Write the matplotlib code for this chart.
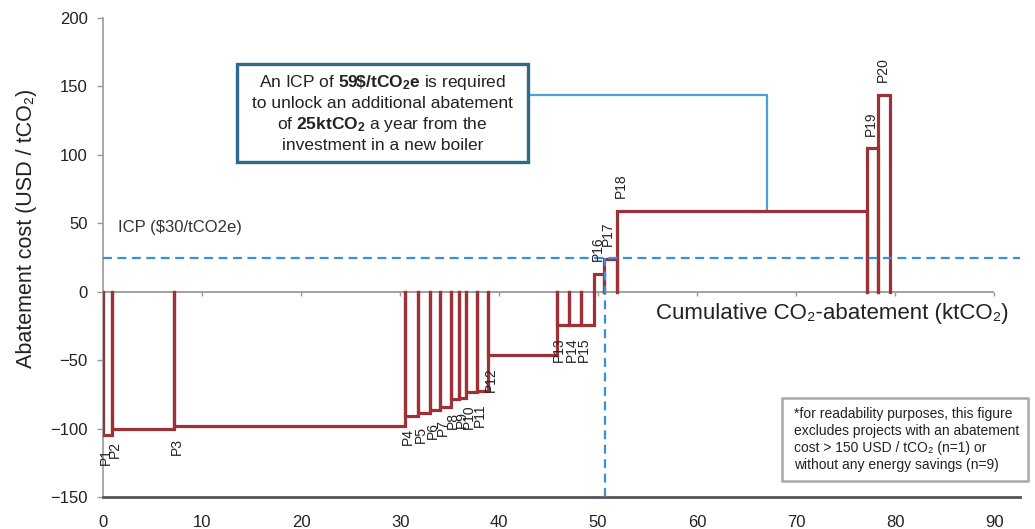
import matplotlib
matplotlib.use("Agg")
import matplotlib.pyplot as plt
from matplotlib.patches import Rectangle

plt.rcParams['font.family'] = ['Liberation Sans', 'DejaVu Sans']
plt.rcParams['mathtext.fontset'] = 'custom'
plt.rcParams['mathtext.rm'] = 'Liberation Sans'
plt.rcParams['mathtext.bf'] = 'Liberation Sans:bold'
plt.rcParams['mathtext.it'] = 'Liberation Sans:italic'

# ---- data ----
projects = ["P1", "P2", "P3", "P4", "P5", "P6", "P7", "P8", "P9", "P10",
            "P11", "P12", "P13", "P14", "P15", "P16", "P17", "P18", "P19", "P20"]
abatement = [0.9, 6.3, 23.3, 1.3, 1.2, 1.0, 1.1, 0.85, 0.75, 1.1,
             1.1, 6.9, 1.3, 1.2, 1.3, 1.0, 1.3, 25.2, 1.2, 1.2]   # ktCO2 per project
cost = [-105, -100, -98, -90.5, -88.8, -86.3, -83.9, -78.5, -78, -73,
        -72.5, -46, -24.5, -24.5, -24, 13, 24, 59, 105, 144]        # USD / tCO2
icp_level = 25
icp_abatement = 50.7
connector_x = 67.1
connector_y = 144
xticks = [0, 10, 20, 30, 40, 50, 60, 70, 80, 90]
yticks = [-150, -100, -50, 0, 50, 100, 150, 200]

RED = "#9e3038"
BLUE = "#3b8fd2"
LIGHTBLUE = "#4d9fd6"
W, H = 1035, 529

fig = plt.figure(figsize=(W / 100, H / 100), dpi=100)
ax = fig.add_axes([103 / W, 1 - 497 / H, (1020 - 103) / W, (497 - 18) / H])
ax.set_xlim(0, 92.6)
ax.set_ylim(-150, 200)

# zero axis line with small ticks
ax.hlines(0, xticks[0], xticks[-1], color="#9a9a9a", lw=1.3, zorder=1)
ax.vlines(xticks, -3, 0, color="#9a9a9a", lw=1.0, zorder=1)

# step outlines for each project
starts = []
s = 0.0
for w in abatement:
    starts.append(s)
    s += w
for name, x0, w, c in zip(projects, starts, abatement, cost):
    x1 = x0 + w
    ax.plot([x0, x0, x1, x1], [0, c, c, 0], color=RED, lw=2.3,
            solid_joinstyle='miter', zorder=3)
    if c < 0:
        ax.annotate(name, (x0, c), xytext=(2, -9), textcoords='offset points',
                    rotation=90, ha='center', va='top', fontsize=10,
                    color="#222222", zorder=5)
    else:
        ax.annotate(name, (x0, c), xytext=(3, 9), textcoords='offset points',
                    rotation=90, ha='center', va='bottom', fontsize=10,
                    color="#222222", zorder=5)

# ICP dashed lines
ax.axhline(icp_level, color=BLUE, lw=1.6, ls=(0, (4, 2.5)), zorder=4)
ax.plot([icp_abatement, icp_abatement], [-150, icp_level], color=BLUE, lw=1.6,
        ls=(0, (4, 2.5)), zorder=4)
ax.text(1.5, 46.6, "ICP ($30/tCO2e)", fontsize=12, va='center', ha='left',
        color="#333333")

# connector from annotation box to P18
box_right = ax.transData.inverted().transform(fig.transFigure.transform((528 / W, 0)))[0]
ax.plot([box_right, connector_x, connector_x], [connector_y, connector_y, cost[17]],
        color=LIGHTBLUE, lw=1.6, zorder=2, clip_on=False)

# spines and ticks
for sp in ["top", "right"]:
    ax.spines[sp].set_visible(False)
ax.spines["left"].set_color("#9a9a9a")
ax.spines["left"].set_linewidth(1.2)
ax.spines["bottom"].set_color("#555555")
ax.spines["bottom"].set_linewidth(2.0)
ax.set_xticks(xticks)
ax.set_yticks(yticks)
ax.tick_params(axis='x', length=0, pad=13, labelsize=12, labelcolor="#222222")
ax.tick_params(axis='y', length=4, width=1, color="#9a9a9a", pad=7,
               labelsize=12, labelcolor="#222222")

# axis titles
fig.text(27 / W, 1 - 228 / H, "Abatement cost (USD / tCO₂)", rotation=90,
         ha='center', va='center', fontsize=15.5, color="#222222")
fig.text(832 / W, 1 - 313 / H, "Cumulative CO₂-abatement (ktCO₂)",
         ha='center', va='center', fontsize=16, color="#222222")

# annotation box
fig.patches.append(Rectangle((237 / W, 1 - 162 / H), (528 - 237) / W, 98 / H,
                             transform=fig.transFigure, fill=True, facecolor="white",
                             edgecolor="#2f6a8c", lw=2.4, zorder=6))
fig.text(382.5 / W, 1 - 113 / H,
         "An ICP of $\\mathbf{59\\$/tCO_{2}e}$ is required\n"
         "to unlock an additional abatement\n"
         "of $\\mathbf{25ktCO_{2}}$ a year from the\n"
         "investment in a new boiler",
         ha='center', va='center', fontsize=12.5, linespacing=1.3,
         color="#222222", zorder=7)

# footnote box
fig.patches.append(Rectangle((782 / W, 1 - 481 / H), (1028 - 782) / W, (481 - 398) / H,
                             transform=fig.transFigure, fill=True, facecolor="white",
                             edgecolor="#a8a8a8", lw=1.8, zorder=6))
fig.text(794 / W, 1 - 439.5 / H,
         "*for readability purposes, this figure\n"
         "excludes projects with an abatement\n"
         "cost > 150 USD / tCO₂ (n=1) or\n"
         "without any energy savings (n=9)",
         ha='left', va='center', fontsize=10, linespacing=1.3,
         color="#222222", zorder=7)

fig.savefig("out.png", dpi=100)
